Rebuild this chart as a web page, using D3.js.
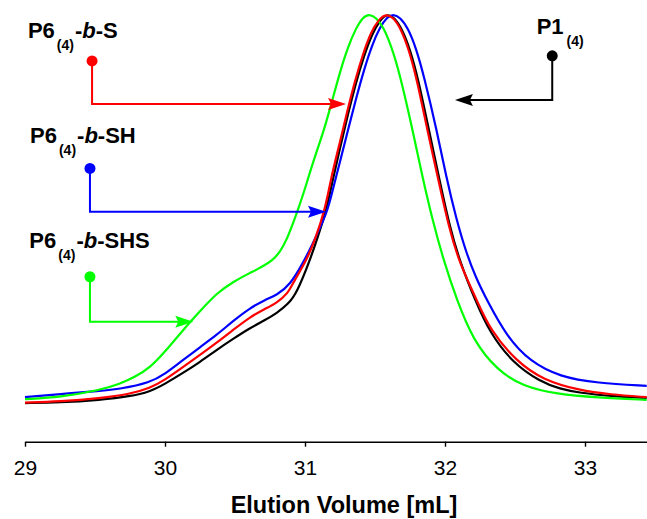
<!DOCTYPE html>
<html><head><meta charset="utf-8">
<script src="https://cdn.jsdelivr.net/npm/d3@7"></script>
<style>
html,body{margin:0;padding:0;background:#fff;}
svg{display:block;font-family:"Liberation Sans",Arial,sans-serif;}
</style></head>
<body><svg id="chart" width="647" height="519"></svg>
<script>
// ---- data (elution volume in mL, normalized detector signal) ----
const tickValues = [29, 30, 31, 32, 33];
const xTitle = "Elution Volume [mL]";

const p1Vol = [29.000,29.250,29.536,29.750,29.893,30.000,30.129,30.250,30.369,30.486,30.607,30.714,30.798,30.879,30.941,31.036,31.084,31.150,31.193,31.250,31.307,31.364,31.421,31.479,31.536,31.586,31.636,31.693,31.750,31.807,31.879,31.964,32.036,32.107,32.214,32.321,32.486,32.679,32.821,32.964,33.179,33.441];
const p1Sig = [.005,.006,.013,.022,.034,.054,.082,.110,.141,.169,.197,.217,.235,.258,.286,.371,.422,.494,.568,.657,.744,.824,.893,.949,.985,1.000,.992,.962,.910,.836,.714,.570,.453,.366,.269,.184,.107,.060,.041,.031,.023,.018];

const sVol = [29.000,29.250,29.536,29.750,29.893,30.000,30.129,30.250,30.369,30.486,30.607,30.714,30.798,30.879,30.914,31.012,31.071,31.143,31.186,31.243,31.300,31.357,31.414,31.471,31.529,31.579,31.629,31.686,31.743,31.800,31.871,31.957,32.029,32.100,32.226,32.321,32.512,32.700,32.964,33.179,33.441];
const sSig = [.006,.009,.017,.028,.043,.064,.097,.128,.159,.192,.225,.246,.261,.286,.312,.371,.422,.499,.581,.662,.749,.829,.898,.954,.987,1.000,.992,.962,.908,.831,.708,.568,.453,.366,.269,.192,.111,.064,.037,.027,.020];

const shVol = [29.000,29.250,29.536,29.679,29.893,30.000,30.129,30.250,30.369,30.486,30.607,30.714,30.798,30.893,30.986,31.057,31.107,31.164,31.207,31.257,31.307,31.364,31.421,31.479,31.536,31.586,31.629,31.679,31.736,31.793,31.850,31.941,32.007,32.079,32.150,32.221,32.298,32.441,32.607,32.821,33.084,33.441];
const shSig = [.020,.028,.036,.041,.057,.079,.115,.148,.179,.215,.248,.269,.281,.307,.363,.414,.453,.499,.563,.632,.703,.783,.857,.921,.967,.992,1.000,.992,.964,.913,.841,.703,.586,.478,.391,.325,.269,.175,.111,.072,.056,.049];

const shsVol = [29.000,29.250,29.536,29.679,29.786,29.893,30.000,30.129,30.250,30.369,30.486,30.607,30.693,30.771,30.821,30.869,30.929,30.986,31.036,31.086,31.136,31.193,31.250,31.307,31.364,31.414,31.457,31.507,31.564,31.621,31.679,31.769,31.836,31.907,31.993,32.084,32.200,32.369,32.557,32.798,33.084,33.441];
const shsSig = [.015,.020,.038,.054,.072,.095,.136,.192,.240,.286,.315,.338,.353,.371,.391,.422,.478,.537,.596,.652,.703,.777,.852,.916,.964,.992,1.000,.992,.964,.913,.844,.703,.588,.478,.366,.269,.166,.090,.047,.028,.019,.013];

// annotation anchors: dot (vol, signal), elbow signal, arrow tip vol, label (vol, signal)
const seriesNames  = ["P1", "P6-b-S", "P6-b-SH", "P6-b-SHS"];
const seriesColors = ["#000000", "#ff0000", "#0000ff", "#00ff00"];
const dotVol   = [32.766, 29.479, 29.464, 29.464];
const dotSig   = [0.893, 0.880, 0.605, 0.328];
const elbowSig = [0.780, 0.770, 0.494, 0.213];
const tipVol   = [32.071, 31.293, 31.150, 30.202];
const labelVol = [32.655, 29.021, 29.036, 29.031];
const labelSig = [0.949, 0.939, 0.670, 0.401];

// ---- drawing ----
const svg = d3.select("#chart");
const x = d3.scaleLinear().domain([29, 29 + 622/140]).range([25, 647]);
const y = d3.scaleLinear().domain([0, 1]).range([405, 14]);
const axisY = 441.7;

const series = [
  {vol: p1Vol, sig: p1Sig},
  {vol: sVol, sig: sSig},
  {vol: shVol, sig: shSig},
  {vol: shsVol, sig: shsSig}
];

const line = d3.line().x(d => x(d[0])).y(d => y(d[1])).curve(d3.curveBasis);
const drawOrder = [0, 2, 3, 1];
drawOrder.forEach(i => {
  const s = series[i];
  const pts = s.vol.map((v, k) => [v, s.sig[k]]);
  svg.append("path").datum(pts)
    .attr("d", line)
    .attr("fill", "none")
    .attr("stroke", seriesColors[i])
    .attr("stroke-width", 2.2)
    .attr("stroke-linejoin", "round");
});

// axis
const axis = d3.axisBottom(x).tickValues(tickValues).tickSize(5).tickSizeOuter(0).tickFormat(d3.format("d"));
const gx = svg.append("g").attr("transform", `translate(0,${axisY})`).call(axis);
gx.select(".domain").attr("stroke", "#000").attr("stroke-width", 1.6);
gx.selectAll(".tick line").attr("stroke", "#000").attr("stroke-width", 1.4);
gx.selectAll(".tick text").attr("y", 33).attr("dy", 0)
  .attr("fill", "#000").style("font-size", "21px")
  .style("font-family", "'Liberation Sans',Arial,sans-serif");

svg.append("text").attr("x", 344).attr("y", 513).attr("text-anchor", "middle")
  .style("font-size", "23.5px").style("font-weight", "bold").text(xTitle);

// annotations
const headLen = 18, headHalf = 6;
seriesNames.forEach((name, i) => {
  const c = seriesColors[i];
  const dx = x(dotVol[i]), dy = y(dotSig[i]);
  const ey = y(elbowSig[i]);
  const tx = x(tipVol[i]);
  const dir = tx > dx ? 1 : -1;
  const baseX = tx - dir * headLen;
  svg.append("path")
    .attr("d", `M${dx},${dy}V${ey}H${baseX + dir*3}`)
    .attr("fill", "none").attr("stroke", c).attr("stroke-width", 2);
  svg.append("path")
    .attr("d", `M${tx},${ey}L${baseX},${ey - headHalf}L${baseX + dir*3},${ey}L${baseX},${ey + headHalf}Z`)
    .attr("fill", c);
  svg.append("circle").attr("cx", dx).attr("cy", dy).attr("r", 5.5).attr("fill", c);

  const t = svg.append("text").attr("x", x(labelVol[i])).attr("y", y(labelSig[i]))
    .style("font-size", "22px").style("font-weight", "bold").attr("fill", "#000");
  if (i === 0) {
    t.append("tspan").text("P1");
    t.append("tspan").attr("dx", 3).attr("dy", 12).style("font-size", "14px").text("(4)");
  } else {
    const suffix = name.split("-b-")[1];
    t.append("tspan").text("P6");
    t.append("tspan").attr("dx", 2).attr("dy", 12).style("font-size", "14px").text("(4)");
    t.append("tspan").attr("dx", 1).attr("dy", -12).text("-");
    t.append("tspan").style("font-style", "italic").text("b");
    t.append("tspan").text("-" + suffix);
  }
});
</script>
</body></html>
